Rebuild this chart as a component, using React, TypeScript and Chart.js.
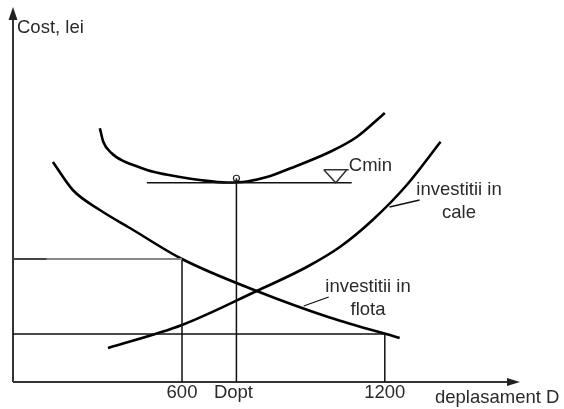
import React, { useEffect, useRef } from "react";
import { Chart, registerables } from "chart.js";

Chart.register(...registerables);

// Schematic data (x: deplasament D, y: cost, arbitrary units)
const costTotalX = [357, 367, 392, 431, 470, 515, 594, 653, 733, 792, 851, 919, 1037, 1117, 1200];
const costTotalY = [101.5, 96.1, 91.5, 88.1, 86.1, 84.1, 82, 80.8, 79.8, 80.2, 82, 85.4, 92, 98, 107.6];

const caleX = [381, 600, 821, 969, 1067, 1164, 1265, 1365];
const caleY = [13.6, 22.8, 36.4, 46, 54, 64.8, 78.8, 96.1];

const flotaX = [218, 277, 357, 446, 600, 821, 1037, 1244];
const flotaY = [88, 76.8, 68.8, 61.6, 49.2, 36.4, 25.8, 17.6];

const D600 = 600;
const DOPT = 761;
const D1200 = 1200;
const CMIN = 79.7;
const CMIN_POINT = 81.5;
const COST600 = 49.2;
const COST1200 = 19.2;
const CMIN_LINE_X = [496, 1102];
const TRIANGLE_X = 1055;

const tickLabels = ["600", "Dopt", "1200"];
const tickValues = [D600, DOPT, D1200];

const X_MIN = 100;
const X_MAX = 1600;
const Y_MIN = 0;
const Y_MAX = 150;

const zip = (xs: number[], ys: number[]) => xs.map((x, i) => ({ x, y: ys[i] }));

const FONT = '18.5px "Liberation Sans", Arial, sans-serif';
const TEXT = "#2a2a2a";

const annotPlugin = {
  id: "annot",
  beforeDatasetsDraw(chart: any) {
    const { ctx, chartArea, scales } = chart;
    const x0 = chartArea.left;
    const y0 = scales.y.getPixelForValue(0);
    ctx.save();
    ctx.strokeStyle = "#333";
    ctx.fillStyle = "#222";
    ctx.lineWidth = 2;
    ctx.beginPath();
    ctx.moveTo(x0, y0);
    ctx.lineTo(x0, chartArea.top + 12);
    ctx.stroke();
    ctx.beginPath();
    ctx.moveTo(x0, chartArea.top);
    ctx.lineTo(x0 - 4.5, chartArea.top + 13);
    ctx.lineTo(x0 + 4.5, chartArea.top + 13);
    ctx.closePath();
    ctx.fill();
    ctx.beginPath();
    ctx.moveTo(x0, y0);
    ctx.lineTo(chartArea.right - 12, y0);
    ctx.stroke();
    ctx.beginPath();
    ctx.moveTo(chartArea.right, y0);
    ctx.lineTo(chartArea.right - 13, y0 - 4);
    ctx.lineTo(chartArea.right - 13, y0 + 4);
    ctx.closePath();
    ctx.fill();
    ctx.restore();
  },
  afterDatasetsDraw(chart: any) {
    const { ctx, chartArea, scales } = chart;
    const sx = scales.x;
    const sy = scales.y;
    const y0 = sy.getPixelForValue(0);
    ctx.save();
    const tx = sx.getPixelForValue(TRIANGLE_X);
    const ty = sy.getPixelForValue(CMIN);
    ctx.strokeStyle = "#333";
    ctx.lineWidth = 1.5;
    ctx.beginPath();
    ctx.moveTo(tx - 12, ty - 13);
    ctx.lineTo(tx + 13, ty - 13);
    ctx.moveTo(tx - 12, ty - 13);
    ctx.lineTo(tx, ty);
    ctx.lineTo(tx + 11, ty - 13);
    ctx.stroke();

    ctx.fillStyle = TEXT;
    ctx.font = FONT;
    ctx.textBaseline = "alphabetic";
    ctx.textAlign = "left";
    ctx.fillText("Cost, lei", chartArea.left + 4, 33);
    ctx.fillText("Cmin", tx + 13, ty - 12);
    ctx.fillText("deplasament D", 435, y0 + 21);

    ctx.textAlign = "center";
    ctx.fillText("investitii in", 459, 195);
    ctx.fillText("cale", 459, 218);
    ctx.fillText("investitii in", 368, 292);
    ctx.fillText("flota", 368, 315);

    tickValues.forEach((v, i) => {
      const off = tickLabels[i] === "Dopt" ? -3 : 0;
      ctx.fillText(tickLabels[i], sx.getPixelForValue(v) + off, y0 + 16);
    });
    ctx.restore();
  },
};

export default function App() {
  const ref = useRef<HTMLCanvasElement | null>(null);

  useEffect(() => {
    if (!ref.current) return;
    const thin = { borderColor: "#111", borderWidth: 1.5, pointRadius: 0, tension: 0, fill: false, clip: false as any };
    const curve = { borderColor: "#000", borderWidth: 2.6, pointRadius: 0, fill: false, clip: false as any, cubicInterpolationMode: "monotone" as const };
    const chart = new Chart(ref.current, {
      type: "line",
      data: {
        datasets: [
          { ...thin, data: [{ x: X_MIN, y: COST600 }, { x: 200, y: COST600 }], borderColor: "#444", borderWidth: 2 },
          { ...thin, data: [{ x: 200, y: COST600 }, { x: D600, y: COST600 }], borderColor: "#888", borderWidth: 2 },
          { ...thin, data: [{ x: D600, y: COST600 }, { x: D600, y: 0 }] },
          { ...thin, data: [{ x: X_MIN, y: COST1200 }, { x: D1200, y: COST1200 }] },
          { ...thin, data: [{ x: D1200, y: COST1200 }, { x: D1200, y: 0 }] },
          { ...thin, data: [{ x: CMIN_LINE_X[0], y: CMIN }, { x: CMIN_LINE_X[1], y: CMIN }] },
          { ...thin, data: [{ x: DOPT, y: CMIN_POINT }, { x: DOPT, y: 0 }] },
          { ...thin, data: [{ x: 1214, y: 70 }, { x: 1303, y: 72.8 }], borderWidth: 1.3 },
          { ...thin, data: [{ x: 960, y: 30.4 }, { x: 1034, y: 34 }], borderWidth: 1.3 },
          { ...curve, data: zip(costTotalX, costTotalY) },
          { ...curve, data: zip(caleX, caleY) },
          { ...curve, data: zip(flotaX, flotaY) },
          {
            data: [{ x: DOPT, y: CMIN_POINT }],
            showLine: false,
            pointRadius: 3,
            pointBorderWidth: 1.2,
            pointBorderColor: "#222",
            pointBackgroundColor: "#fff",
            clip: false as any,
          },
        ],
      },
      options: {
        responsive: false,
        maintainAspectRatio: false,
        animation: false,
        events: [],
        layout: { padding: { left: 13, right: 44, top: 7, bottom: 27 } },
        plugins: { legend: { display: false }, tooltip: { enabled: false } },
        scales: {
          x: { type: "linear", min: X_MIN, max: X_MAX, display: false },
          y: { type: "linear", min: Y_MIN, max: Y_MAX, display: false },
        },
      },
      plugins: [annotPlugin],
    });
    return () => chart.destroy();
  }, []);

  return (
    <div style={{ position: "absolute", left: 0, top: 0, width: 564, height: 409, background: "#fff" }}>
      <canvas ref={ref} width={564} height={409} style={{ width: 564, height: 409, display: "block" }} />
    </div>
  );
}
